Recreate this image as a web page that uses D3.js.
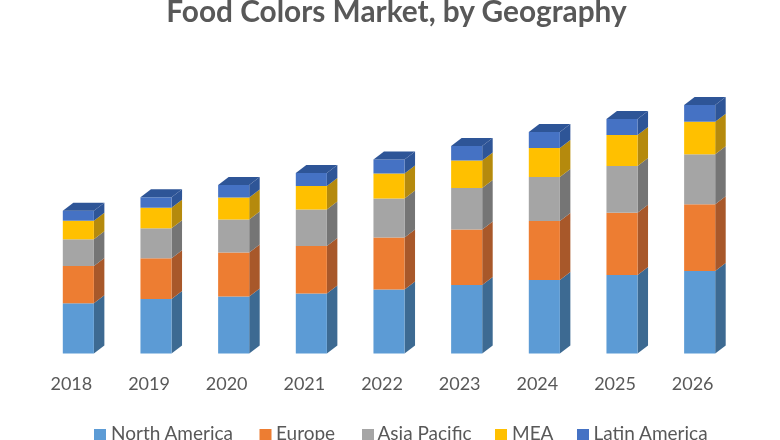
<!DOCTYPE html>
<html><head><meta charset="utf-8">
<style>html,body{margin:0;padding:0;background:#fff;overflow:hidden}svg{display:block}</style>
<script src="https://cdn.jsdelivr.net/npm/d3@7/dist/d3.min.js"></script>
</head><body><svg id="c" width="780" height="440"></svg>
<script>
const years=["2018","2019","2020","2021","2022","2023","2024","2025","2026"];
const seriesNames=["North America","Europe","Asia Pacific","MEA","Latin America"];
const northAmerica=[50.2,54.5,57,60,64,68.5,73.5,78.5,82.5];
const europe=[37.3,40.7,44,47.5,52,55.5,59,62.3,66.7];
const asiaPacific=[26.7,30,33,36.5,39,41.5,44,46.7,50];
const mea=[18.6,20.6,22,23.5,25,27.5,29,31,32.6];
const latinAmerica=[10,10.4,12.5,13,14,14.5,16,16,16.7];
const frontColors=["#5B9BD5","#ED7D31","#A5A5A5","#FFC000","#4472C4"];
const sideColors=["#3C6A92","#A8582A","#747474","#B58A08","#2F5597"];
const topColor="#2F5597";
const legendSwatchX=[94,259.5,362,495,577];
const legendTextX=[111,276,377.5,512,593.5];

const rows=[northAmerica,europe,asiaPacific,mea,latinAmerica];
const data=years.map((y,i)=>{const o={year:y};seriesNames.forEach((s,k)=>o[s]=rows[k][i]);return o;});
const stacked=d3.stack().keys(seriesNames)(data);
const svg=d3.select("#c");
const x=d3.scaleBand().domain(years).range([39.5,738.5]).paddingInner(0.6).paddingOuter(0.3);
const y=d3.scaleLinear().domain([0,300]).range([353.5,53.5]);
const dx=10.5,dy=8;
const defs=svg.append("defs");
defs.append("filter").attr("id","soft").append("feGaussianBlur").attr("stdDeviation",0.55);
const root=svg.append("g").attr("filter","url(#soft)");
const poly=d3.line();
const g=root.append("g");
stacked.forEach((layer,k)=>{
  layer.forEach((d,i)=>{
    const yr=years[i],l=x(yr),r=l+x.bandwidth(),t=y(d[1]),b=y(d[0]);
    g.append("path").attr("d",poly([[r,b],[r+dx,b-dy],[r+dx,t-dy],[r,t]])+"Z").attr("fill",sideColors[k]);
    g.append("rect").attr("x",l).attr("y",t).attr("width",x.bandwidth()).attr("height",b-t).attr("fill",frontColors[k]);
    if(k===stacked.length-1){
      g.append("path").attr("d",poly([[l,t],[l+dx,t-dy],[r+dx,t-dy],[r,t]])+"Z").attr("fill",topColor);
    }
  });
});
const ax=root.append("g").attr("transform","translate(-7,384)")
  .call(d3.axisBottom(x).tickSize(0).tickPadding(0));
ax.select(".domain").remove();
ax.selectAll("text").attr("dy","0.35em").attr("y",0).attr("font-family","Lato").attr("font-size",18).attr("fill","#595959");
root.append("text").attr("x",396.5).attr("y",22).attr("text-anchor","middle")
  .attr("font-family","Lato").attr("font-weight",700).attr("font-size",29.8).attr("fill","#595959")
  .text("Food Colors Market, by Geography");
const leg=root.append("g");
seriesNames.forEach((s,k)=>{
  leg.append("rect").attr("x",legendSwatchX[k]).attr("y",429).attr("width",12).attr("height",11).attr("fill",frontColors[k]);
  leg.append("text").attr("x",legendTextX[k]).attr("y",439.5).attr("font-family","Lato").attr("font-size",19).attr("fill","#595959").text(s);
});
</script></body></html>
